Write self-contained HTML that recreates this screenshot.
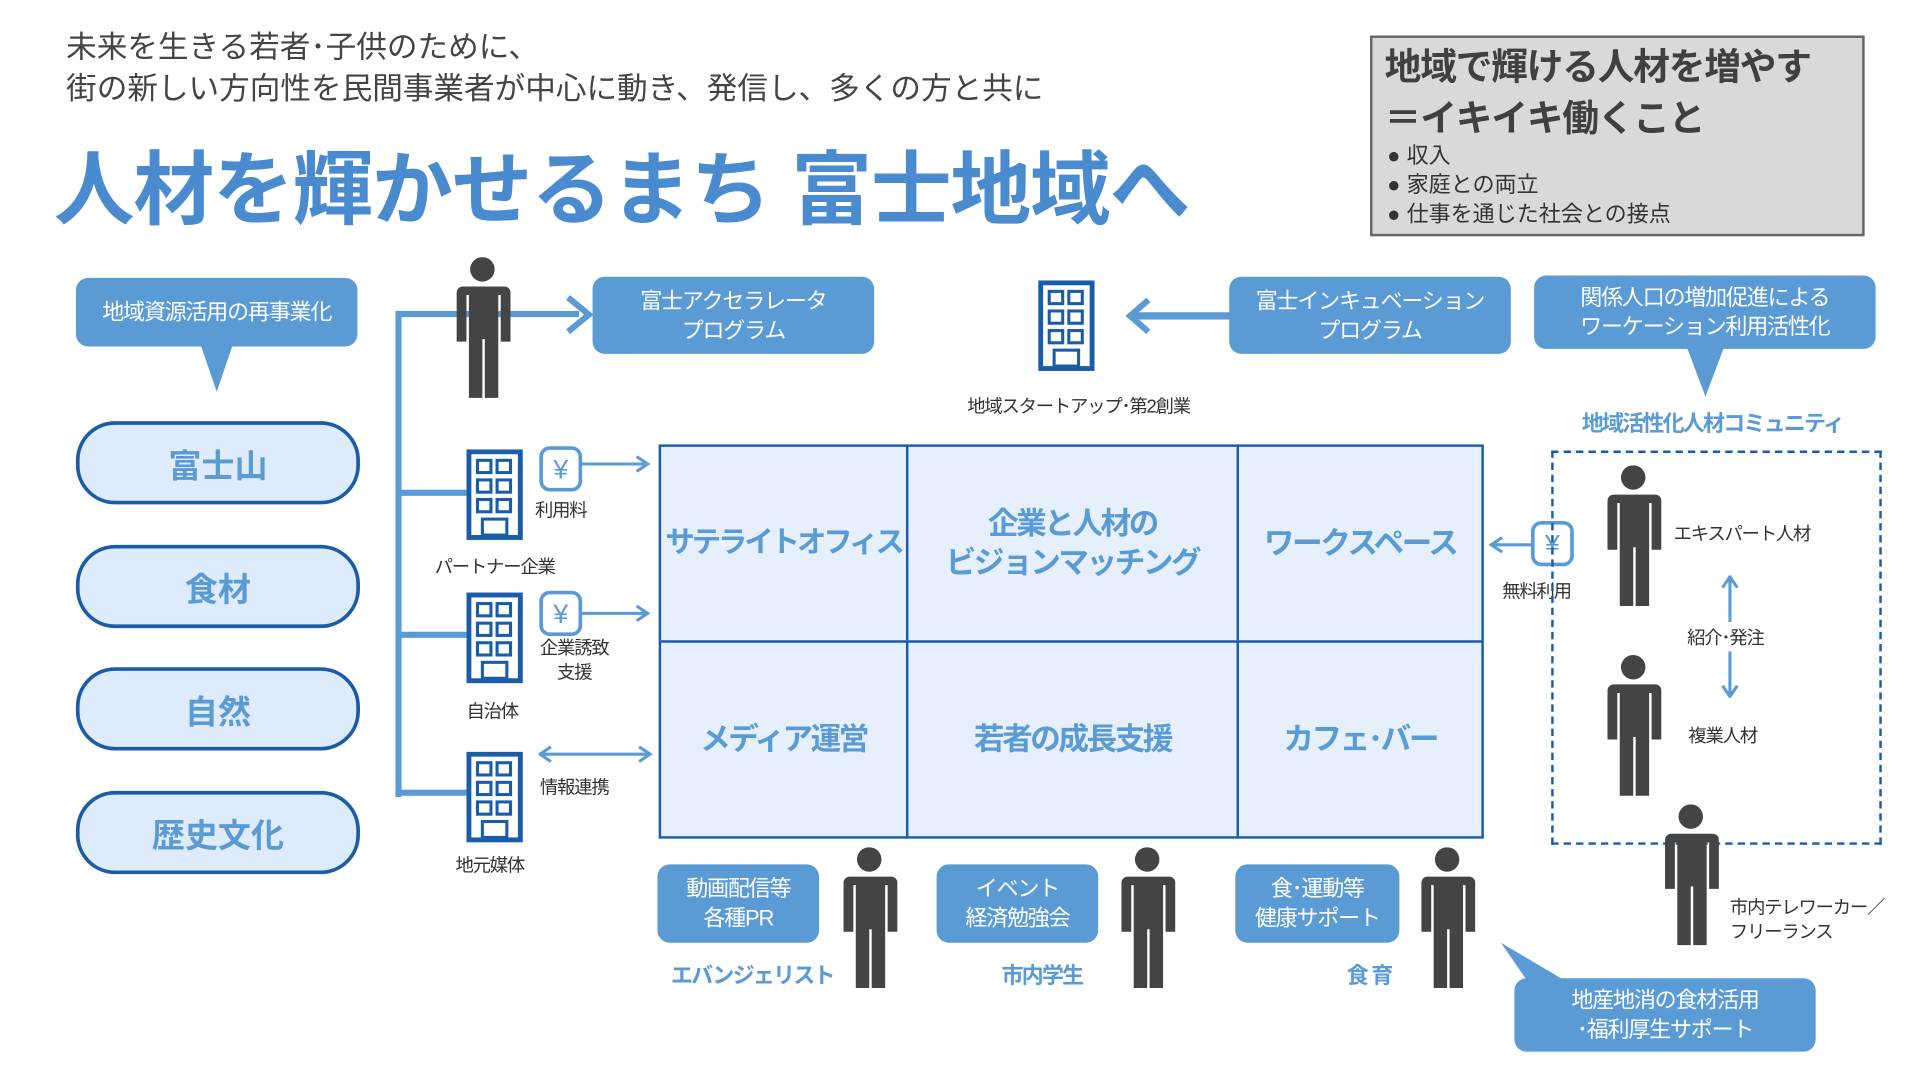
<!DOCTYPE html>
<html><head><meta charset="utf-8">
<style>
html,body{margin:0;padding:0;width:1920px;height:1080px;overflow:hidden;background:#fff}
#s{position:absolute;left:0;top:0;width:1570px;height:882px;transform:scale(1.2243);transform-origin:0 0;font-family:"Liberation Sans","Noto Sans CJK JP",sans-serif;}
.a{position:absolute}
.bx{position:absolute;background:#5b9bd5;color:#fff;border-radius:10px;text-align:center;font-size:18px;line-height:24px;display:flex;align-items:center;justify-content:center;letter-spacing:-1px;white-space:nowrap}
.pill{position:absolute;left:62px;width:226px;height:62px;border:3px solid #1a5ca8;border-radius:32px;background:#deebfa;color:#5b9bd5;font-weight:bold;font-size:27px;display:flex;align-items:center;justify-content:center}
.cell{position:absolute;border:2px solid #1a5ca8;background:#e6f0fc;color:#5b9bd5;font-weight:bold;font-size:25px;line-height:32px;text-align:center;display:flex;align-items:center;justify-content:center;box-sizing:border-box;letter-spacing:-2px;white-space:nowrap}
.t{position:absolute;font-size:15px;color:#333;white-space:nowrap;letter-spacing:-1px}
.bl{position:absolute;font-size:18px;color:#5b9bd5;font-weight:bold;white-space:nowrap;letter-spacing:-1.5px}
.line{position:absolute;background:#5b9bd5}
</style></head><body><div id="s">
<svg width="0" height="0" style="position:absolute">
<defs>
<g id="p"><circle cx="23" cy="10" r="10" fill="#444"/><path d="M5 24 h36 a5 5 0 0 1 5 5 v40 h-8 v-38 h-2 v84 h-11 v-48 h-2 v48 h-11 v-84 h-2 v38 h-8 v-40 a5 5 0 0 1 5 -5z" fill="#444"/></g>
<g id="b"><rect x="2" y="2" width="42" height="70" fill="#fff" stroke="#1a5ca8" stroke-width="4"/>
<g fill="none" stroke="#1a5ca8" stroke-width="2.5"><rect x="9" y="9" width="11" height="10"/><rect x="25" y="9" width="11" height="10"/><rect x="9" y="25" width="11" height="10"/><rect x="25" y="25" width="11" height="10"/><rect x="9" y="41" width="11" height="10"/><rect x="25" y="41" width="11" height="10"/></g><rect x="13" y="57" width="20" height="13" fill="#fff" stroke="#1a5ca8" stroke-width="2.5"/></g>
<g id="y"><rect x="2" y="2" width="32" height="34" rx="7" fill="#fff" stroke="#5b9bd5" stroke-width="3"/><text x="18" y="27" font-size="22" fill="#5b9bd5" text-anchor="middle" font-family="Liberation Sans">¥</text></g>
</defs></svg>

<div class="a" style="left:54px;top:22px;font-size:25px;line-height:34px;color:#444;white-space:nowrap">未来を生きる若者･子供のために、<br>街の新しい方向性を民間事業者が中心に動き、発信し、多くの方と共に</div>
<div class="a" style="left:44px;top:102px;font-size:66px;font-weight:bold;color:#4a8bd0;white-space:nowrap;letter-spacing:-1px">人材を輝かせるまち 富士地域へ</div>

<div class="a" style="left:1119px;top:29px;width:400px;height:160px;background:#d9d9d9;border:2px solid #666;">
<div style="position:absolute;left:10px;top:4px;font-size:30px;font-weight:bold;line-height:42px;color:#404040;white-space:nowrap;letter-spacing:-1px">地域で輝ける人材を増やす<br>＝イキイキ働くこと</div>
<div style="position:absolute;left:12px;top:84px;font-size:18px;line-height:24px;color:#333;white-space:nowrap">●&nbsp;収入<br>●&nbsp;家庭との両立<br>●&nbsp;仕事を通じた社会との接点</div></div>

<div class="bx" style="left:62px;top:227px;width:230px;height:56px;font-size:18px">地域資源活用の再事業化</div>
<svg class="a" style="left:164px;top:282px" width="26" height="38"><path d="M0 0 L26 0 L13 38Z" fill="#5b9bd5"/></svg>
<div class="pill" style="top:344px">富士山</div>
<div class="pill" style="top:445px">食材</div>
<div class="pill" style="top:545px">自然</div>
<div class="pill" style="top:646px">歴史文化</div>

<div class="line" style="left:323px;top:254px;width:5px;height:397px"></div>
<div class="line" style="left:323px;top:254px;width:150px;height:5px"></div>
<svg class="a" style="left:460px;top:240px" width="26" height="34"><path d="M4 3 L21 17 L4 31" fill="none" stroke="#5b9bd5" stroke-width="5"/></svg>
<div class="line" style="left:323px;top:400px;width:58px;height:5px"></div>
<div class="line" style="left:323px;top:516px;width:58px;height:5px"></div>
<div class="line" style="left:323px;top:645px;width:58px;height:5px"></div>

<svg class="a" style="left:371px;top:210px" width="46" height="116"><use href="#p"/></svg>
<div class="bx" style="left:484px;top:226px;width:230px;height:63px">富士アクセラレータ<br>プログラム</div>
<svg class="a" style="left:848px;top:229px" width="48" height="76"><use href="#b"/></svg>
<div class="t" style="left:790px;top:321px">地域スタートアップ･第2創業</div>
<svg class="a" style="left:918px;top:242px" width="90" height="32"><path d="M20 3 L5 16 L20 29" fill="none" stroke="#5b9bd5" stroke-width="5"/><rect x="7" y="13" width="83" height="6" fill="#5b9bd5"/></svg>
<div class="bx" style="left:1004px;top:226px;width:230px;height:63px">富士インキュベーション<br>プログラム</div>
<div class="bx" style="left:1253px;top:225px;width:279px;height:60px">関係人口の増加促進による<br>ワーケーション利用活性化</div>
<svg class="a" style="left:1378px;top:284px" width="30" height="40"><path d="M0 0 L30 0 L15 40Z" fill="#5b9bd5"/></svg>
<div class="bl" style="left:1292px;top:332px">地域活性化人材コミュニティ</div>

<svg class="a" style="left:381px;top:367px" width="48" height="76"><use href="#b"/></svg>
<svg class="a" style="left:440px;top:364px" width="40" height="40"><use href="#y"/></svg>
<svg class="a" style="left:474px;top:370px" width="60" height="18"><path d="M0 9 H54 M46 3 L55 9 L46 15" fill="none" stroke="#5b9bd5" stroke-width="2.5"/></svg>
<div class="t" style="left:437px;top:406px">利用料</div>
<div class="t" style="left:355px;top:452px">パートナー企業</div>
<svg class="a" style="left:381px;top:484px" width="48" height="76"><use href="#b"/></svg>
<svg class="a" style="left:440px;top:482px" width="40" height="40"><use href="#y"/></svg>
<svg class="a" style="left:474px;top:492px" width="60" height="18"><path d="M0 9 H54 M46 3 L55 9 L46 15" fill="none" stroke="#5b9bd5" stroke-width="2.5"/></svg>
<div class="t" style="left:441px;top:520px;text-align:center;line-height:20px">企業誘致<br>支援</div>
<div class="t" style="left:381px;top:570px">自治体</div>
<svg class="a" style="left:381px;top:614px" width="48" height="76"><use href="#b"/></svg>
<svg class="a" style="left:440px;top:607px" width="94" height="18"><path d="M2 9 H90 M10 3 L1 9 L10 15 M82 3 L91 9 L82 15" fill="none" stroke="#5b9bd5" stroke-width="2.5"/></svg>
<div class="t" style="left:441px;top:632px">情報連携</div>
<div class="t" style="left:372px;top:696px">地元媒体</div>

<div class="cell" style="left:538px;top:363px;width:204px;height:162px;font-size:24px;letter-spacing:-2.5px">サテライトオフィス</div>
<div class="cell" style="left:740px;top:363px;width:272px;height:162px">企業と人材の<br>ビジョンマッチング</div>
<div class="cell" style="left:1010px;top:363px;width:202px;height:162px">ワークスペース</div>
<div class="cell" style="left:538px;top:523px;width:204px;height:162px">メディア運営</div>
<div class="cell" style="left:740px;top:523px;width:272px;height:162px">若者の成長支援</div>
<div class="cell" style="left:1010px;top:523px;width:202px;height:162px">カフェ･バー</div>

<svg class="a" style="left:1216px;top:436px" width="40" height="18"><path d="M38 9 H3 M11 3 L2 9 L11 15" fill="none" stroke="#5b9bd5" stroke-width="2.5"/></svg>
<svg class="a" style="left:1250px;top:425px" width="40" height="40"><use href="#y"/></svg>
<div class="t" style="left:1227px;top:472px">無料利用</div>
<div class="a" style="left:1267px;top:368px;width:266px;height:318px;border:2px dashed #1a5ca8"></div>
<svg class="a" style="left:1311px;top:380px" width="46" height="116"><use href="#p"/></svg>
<div class="t" style="left:1367px;top:425px">エキスパート人材</div>
<svg class="a" style="left:1404px;top:470px" width="18" height="100"><path d="M9 2 V38 M3 10 L9 1 L15 10 M9 62 V98 M3 90 L9 99 L15 90" fill="none" stroke="#5b9bd5" stroke-width="2.5"/></svg>
<div class="t" style="left:1378px;top:510px">紹介･発注</div>
<svg class="a" style="left:1311px;top:535px" width="46" height="116"><use href="#p"/></svg>
<div class="t" style="left:1379px;top:590px">複業人材</div>
<svg class="a" style="left:1358px;top:657px" width="46" height="116"><use href="#p"/></svg>
<div class="t" style="left:1413px;top:732px;line-height:20px">市内テレワーカー／<br>フリーランス</div>

<div class="bx" style="left:537px;top:706px;width:132px;height:64px">動画配信等<br>各種PR</div>
<svg class="a" style="left:687px;top:692px" width="46" height="116"><use href="#p"/></svg>
<div class="bl" style="left:548px;top:783px">エバンジェリスト</div>
<div class="bx" style="left:765px;top:706px;width:132px;height:64px">イベント<br>経済勉強会</div>
<svg class="a" style="left:914px;top:692px" width="46" height="116"><use href="#p"/></svg>
<div class="bl" style="left:818px;top:783px">市内学生</div>
<div class="bx" style="left:1009px;top:706px;width:134px;height:64px">食･運動等<br>健康サポート</div>
<svg class="a" style="left:1159px;top:692px" width="46" height="116"><use href="#p"/></svg>
<div class="bl" style="left:1100px;top:783px">食 育</div>

<svg class="a" style="left:1222px;top:770px" width="60" height="40"><path d="M4 0 L58 32 L26 32Z" fill="#5b9bd5"/></svg>
<div class="bx" style="left:1237px;top:799px;width:246px;height:60px">地産地消の食材活用<br>･福利厚生サポート</div>
</div></body></html>
